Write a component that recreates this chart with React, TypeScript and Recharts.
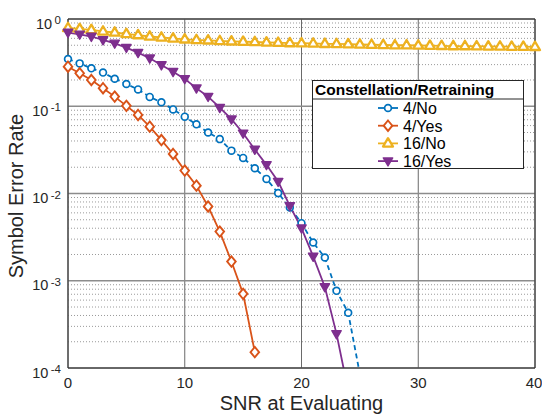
import { LineChart, Line, XAxis, YAxis, CartesianGrid, ReferenceLine, Legend, Label } from "recharts"

const snrValues = [
  0, 1, 2, 3, 4, 5, 6, 7, 8, 9, 10, 11, 12, 13, 14, 15, 16, 17, 18, 19, 20,
  21, 22, 23, 24, 25, 26, 27, 28, 29, 30, 31, 32, 33, 34, 35, 36, 37, 38, 39, 40,
]

// 4-point constellation, no retraining (dashed)
const ser4No = [
  0.348, 0.31, 0.272, 0.243, 0.207, 0.18, 0.156, 0.128, 0.111, 0.092, 0.076,
  0.062, 0.05, 0.042, 0.031, 0.0256, 0.0195, 0.0147, 0.0101, 0.0069, 0.00457,
  0.00274, 0.00185, 0.000766, 0.00043, 0.000085,
]

// 4-point constellation, retrained
const ser4Yes = [
  0.284, 0.239, 0.2, 0.161, 0.129, 0.101, 0.0795, 0.0584, 0.041, 0.0284, 0.0183,
  0.0123, 0.0071, 0.00366, 0.00166, 0.000708, 0.000152,
]

// 16-point constellation, no retraining
const ser16No = [
  0.79, 0.77, 0.75, 0.72, 0.7, 0.675, 0.655, 0.63, 0.615, 0.6, 0.585, 0.575,
  0.57, 0.56, 0.555, 0.55, 0.545, 0.54, 0.535, 0.53, 0.527, 0.525, 0.52, 0.518,
  0.515, 0.51, 0.508, 0.505, 0.5, 0.5, 0.497, 0.495, 0.493, 0.49, 0.49, 0.488,
  0.486, 0.485, 0.483, 0.482, 0.48,
]

// 16-point constellation, retrained
const ser16Yes = [
  0.7, 0.667, 0.63, 0.575, 0.526, 0.47, 0.411, 0.355, 0.297, 0.249, 0.206,
  0.161, 0.129, 0.0964, 0.071, 0.049, 0.032, 0.0213, 0.0137, 0.0072, 0.004,
  0.0019, 0.00085, 0.000246, 0.000055,
]

const xTicks = [0, 10, 20, 30, 40]
const yTicks = [1e-4, 1e-3, 1e-2, 1e-1, 1]
const minorY = [-4, -3, -2, -1].flatMap((k) =>
  [2, 3, 4, 5, 6, 7, 8, 9].map((m) => m * Math.pow(10, k))
)

const data = snrValues.map((snr, i) => ({
  snr,
  a: ser4No[i],
  b: ser4Yes[i],
  c: ser16No[i],
  d: ser16Yes[i],
}))

const BLUE = "#0072BD"
const ORANGE = "#D95319"
const YELLOW = "#EDB120"
const PURPLE = "#7E2F8E"
const INK = "#262626"
const FONT = "'Liberation Sans', Arial, sans-serif"

type MarkProps = { cx: number; cy: number; color: string }

const CircleMark = ({ cx, cy, color }: MarkProps) => (
  <circle cx={cx} cy={cy} r={3.4} fill="#fff" stroke={color} strokeWidth={1.7} />
)

const DiamondMark = ({ cx, cy, color }: MarkProps) => (
  <polygon
    points={`${cx},${cy - 5.2} ${cx + 4.3},${cy} ${cx},${cy + 5.2} ${cx - 4.3},${cy}`}
    fill="#fff"
    stroke={color}
    strokeWidth={1.9}
  />
)

const TriUpMark = ({ cx, cy, color }: MarkProps) => (
  <polygon
    points={`${cx},${cy - 5.2} ${cx + 5},${cy + 3.2} ${cx - 5},${cy + 3.2}`}
    fill="#fff"
    stroke={color}
    strokeWidth={2.3}
    strokeLinejoin="round"
  />
)

const TriDownMark = ({ cx, cy, color }: MarkProps) => (
  <polygon
    points={`${cx - 4.7},${cy - 3.2} ${cx + 4.7},${cy - 3.2} ${cx},${cy + 4.9}`}
    fill={color}
    stroke={color}
    strokeWidth={1.4}
    strokeLinejoin="round"
  />
)

function dotOf(Mark: (p: MarkProps) => any, color: string) {
  return (p: any) => {
    if (p.cx == null || p.cy == null || p.value == null) return <g key={`e${p.index}`} />
    return (
      <g key={`m${p.index}`}>
        <Mark cx={p.cx} cy={p.cy} color={color} />
      </g>
    )
  }
}

const series = [
  { key: "a", name: "4/No", color: BLUE, Mark: CircleMark, dash: "5 3.5" },
  { key: "b", name: "4/Yes", color: ORANGE, Mark: DiamondMark, dash: undefined },
  { key: "c", name: "16/No", color: YELLOW, Mark: TriUpMark, dash: undefined },
  { key: "d", name: "16/Yes", color: PURPLE, Mark: TriDownMark, dash: undefined },
]

const YTick = ({ y, payload }: any) => {
  const exp = Math.round(Math.log10(payload.value))
  return (
    <text x={61} y={y + 9.5} textAnchor="end" fontSize={14.5} fill={INK} fontFamily={FONT}>
      10
      <tspan dx={2.5} dy={-4.5} fontSize={11.5}>
        {exp}
      </tspan>
    </text>
  )
}

const XTick = ({ x, payload }: any) => (
  <text x={x} y={388} textAnchor="middle" fontSize={15} fill={INK} fontFamily={FONT}>
    {payload.value}
  </text>
)

const LegendBox = () => (
  <svg width={213} height={90} style={{ display: "block" }}>
    <rect x={0.5} y={0.5} width={211} height={88} fill="#fff" stroke={INK} strokeWidth={1} />
    <text x={3} y={14.5} fontSize={15.5} fontWeight="bold" fill="#000" fontFamily={FONT}>
      Constellation/Retraining
    </text>
    <line x1={0.5} x2={211.5} y1={19} y2={19} stroke={INK} strokeWidth={1} />
    {series.map((s, i) => {
      const cy = 28 + i * 17.7
      return (
        <g key={s.key}>
          <line x1={66} x2={86} y1={cy} y2={cy} stroke={s.color} strokeWidth={1.8} />
          <s.Mark cx={76} cy={cy} color={s.color} />
          <text x={91} y={cy + 5.8} fontSize={16} fill="#000" fontFamily={FONT}>
            {s.name}
          </text>
        </g>
      )
    })}
  </svg>
)

export default function App() {
  return (
    <div style={{ position: "absolute", left: 0, top: 0, width: 542, height: 415, background: "#fff" }}>
      <LineChart width={542} height={415} data={data} margin={{ top: 19, right: 7, bottom: 0, left: 0 }}>
        {minorY.map((v) => (
          <ReferenceLine key={v} y={v} stroke="#9a9a9a" strokeDasharray="1 2" strokeWidth={1} />
        ))}
        <CartesianGrid horizontal={false} stroke="#6a6a6a" strokeWidth={1} />
        <CartesianGrid vertical={false} stroke="#8c8c8c" strokeWidth={1.3} />
        <ReferenceLine y={1} stroke={INK} strokeWidth={1} />
        <ReferenceLine x={40} stroke={INK} strokeWidth={1} />
        <XAxis
          dataKey="snr"
          type="number"
          domain={[0, 40]}
          ticks={xTicks}
          height={47}
          axisLine={{ stroke: INK }}
          tickLine={false}
          tick={<XTick />}
        >
          <Label
            value="SNR at Evaluating"
            position="insideBottom"
            offset={5}
            fontSize={20}
            fill={INK}
            fontFamily={FONT}
          />
        </XAxis>
        <YAxis
          type="number"
          scale="log"
          domain={[1e-4, 1]}
          allowDataOverflow
          ticks={yTicks}
          width={68}
          axisLine={{ stroke: INK }}
          tickLine={false}
          tick={<YTick />}
        >
          <Label
            content={() => (
              <text
                transform="translate(23,196) rotate(-90)"
                textAnchor="middle"
                fontSize={20}
                fill={INK}
                fontFamily={FONT}
              >
                Symbol Error Rate
              </text>
            )}
          />
        </YAxis>
        {series.map((s) => (
          <Line
            key={s.key}
            dataKey={s.key}
            name={s.name}
            stroke={s.color}
            strokeWidth={1.8}
            strokeDasharray={s.dash}
            type="linear"
            dot={dotOf(s.Mark, s.color)}
            activeDot={false}
            isAnimationActive={false}
          />
        ))}
        <Legend
          layout="vertical"
          align="center"
          verticalAlign="middle"
          content={() => <LegendBox />}
          wrapperStyle={{ left: 312, top: 80, width: 213, height: 90 }}
        />
      </LineChart>
    </div>
  )
}
